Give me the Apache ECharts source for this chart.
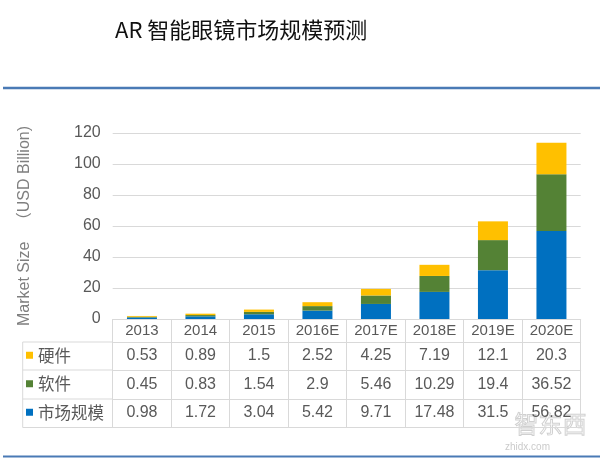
<!DOCTYPE html>
<html>
<head>
<meta charset="utf-8">
<script src="https://cdn.jsdelivr.net/npm/echarts@6/dist/echarts.min.js"></script>
<style>
html,body{margin:0;padding:0;background:#fff;}
#c{width:600px;height:466px;}
</style>
</head>
<body>
<div id="c"></div>
<script>
var categories = ['2013','2014','2015','2016E','2017E','2018E','2019E','2020E'];
var hardware = [0.53, 0.89, 1.5, 2.52, 4.25, 7.19, 12.1, 20.3];
var software = [0.45, 0.83, 1.54, 2.9, 5.46, 10.29, 19.4, 36.52];
var market = [0.98, 1.72, 3.04, 5.42, 9.71, 17.48, 31.5, 56.82];
var yTicks = [0, 20, 40, 60, 80, 100, 120];

var FONT = '"Liberation Sans", Arial, "Noto Sans CJK SC", sans-serif';
var CJK = '"Noto Sans CJK SC", "Liberation Sans", sans-serif';
var GRID_C = '#d9d9d9';
var TXT = '#595959';

function rowAxis(data, offset, tickLen, margin, fontSize, showLabel) {
  return {
    type: 'category',
    gridIndex: 0,
    position: 'bottom',
    offset: offset,
    data: data,
    boundaryGap: true,
    axisLine: {show: true, lineStyle: {color: GRID_C, width: 1}},
    axisTick: {show: tickLen > 0, length: tickLen, interval: 0, lineStyle: {color: GRID_C, width: 1}},
    axisLabel: {show: showLabel, interval: 0, margin: margin, fontSize: fontSize, color: TXT, fontFamily: FONT},
    splitLine: {show: false}
  };
}

function legendRow(name, top) {
  return {
    data: [name], orient: 'vertical', left: 26, top: top,
    itemWidth: 7, itemHeight: 7, itemGap: 0, padding: 0,
    icon: 'rect', selectedMode: false,
    textStyle: {fontSize: 16.5, color: TXT, fontFamily: CJK}
  };
}

var chart = echarts.init(document.getElementById('c'), null, {renderer: 'canvas'});
var option = {
  backgroundColor: '#fff',
  animation: false,
  title: {
    text: 'AR 智能眼镜市场规模预测',
    left: 110, top: 14,
    textStyle: {fontSize: 22, fontWeight: 'normal', color: '#111', fontFamily: CJK}
  },
  legend: [
    legendRow('硬件', 347),
    legendRow('软件', 375.5),
    legendRow('市场规模', 404)
  ],
  grid: {left: 112.7, right: 19.3, top: 133, bottom: 147, containLabel: false},
  xAxis: [
    rowAxis(categories, 0, 23, 4, 15, true),
    rowAxis(hardware.map(String), 23, 28, 6, 16, true),
    rowAxis(software.map(String), 51, 29, 6.5, 16, true),
    rowAxis(market.map(String), 80, 28.5, 6, 16, true),
    rowAxis(categories.map(function(){return '';}), 108.5, 0, 0, 16, false)
  ],
  yAxis: {
    type: 'value',
    min: yTicks[0], max: yTicks[yTicks.length - 1], interval: 20,
    name: 'Market Size   （USD Billion)',
    nameLocation: 'middle', nameGap: 80, nameRotate: 90,
    nameTextStyle: {fontSize: 16, color: '#7f7f7f', fontFamily: FONT},
    axisLine: {show: false}, axisTick: {show: false},
    axisLabel: {fontSize: 16, color: TXT, margin: 12, fontFamily: FONT},
    splitLine: {lineStyle: {color: GRID_C, width: 1}}
  },
  series: [
    {name: '市场规模', type: 'bar', stack: 'a', data: market, barWidth: 30, itemStyle: {color: '#0070c0'}},
    {name: '软件', type: 'bar', stack: 'a', data: software, barWidth: 30, itemStyle: {color: '#548235'}},
    {name: '硬件', type: 'bar', stack: 'a', data: hardware, barWidth: 30, itemStyle: {color: '#ffc000'}}
  ],
  graphic: [
    {type: 'line', shape: {x1: 3, y1: 88, x2: 600, y2: 88}, style: {stroke: '#4a7ab5', lineWidth: 2.5}},
    {type: 'line', shape: {x1: 3, y1: 456.5, x2: 600, y2: 456.5}, style: {stroke: '#4a7ab5', lineWidth: 2}},
    {type: 'line', shape: {x1: 22.7, y1: 342, x2: 112.7, y2: 342}, style: {stroke: GRID_C, lineWidth: 1}},
    {type: 'line', shape: {x1: 22.7, y1: 370, x2: 112.7, y2: 370}, style: {stroke: GRID_C, lineWidth: 1}},
    {type: 'line', shape: {x1: 22.7, y1: 399, x2: 112.7, y2: 399}, style: {stroke: GRID_C, lineWidth: 1}},
    {type: 'line', shape: {x1: 22.7, y1: 427.5, x2: 112.7, y2: 427.5}, style: {stroke: GRID_C, lineWidth: 1}},
    {type: 'line', shape: {x1: 22.7, y1: 342, x2: 22.7, y2: 427.5}, style: {stroke: GRID_C, lineWidth: 1}},
    {type: 'text', left: 514, top: 411, style: {text: '智东西', fontSize: 24, fill: 'rgba(255,255,255,0)', stroke: 'rgba(150,150,150,0.45)', lineWidth: 1, fontFamily: CJK}},
    {type: 'text', left: 505, top: 442, style: {text: 'zhidx.com', fontSize: 10, fill: 'rgba(150,150,150,0.5)', fontFamily: FONT, letterSpacing: 2}}
  ]
};
chart.setOption(option);
</script>
</body>
</html>
